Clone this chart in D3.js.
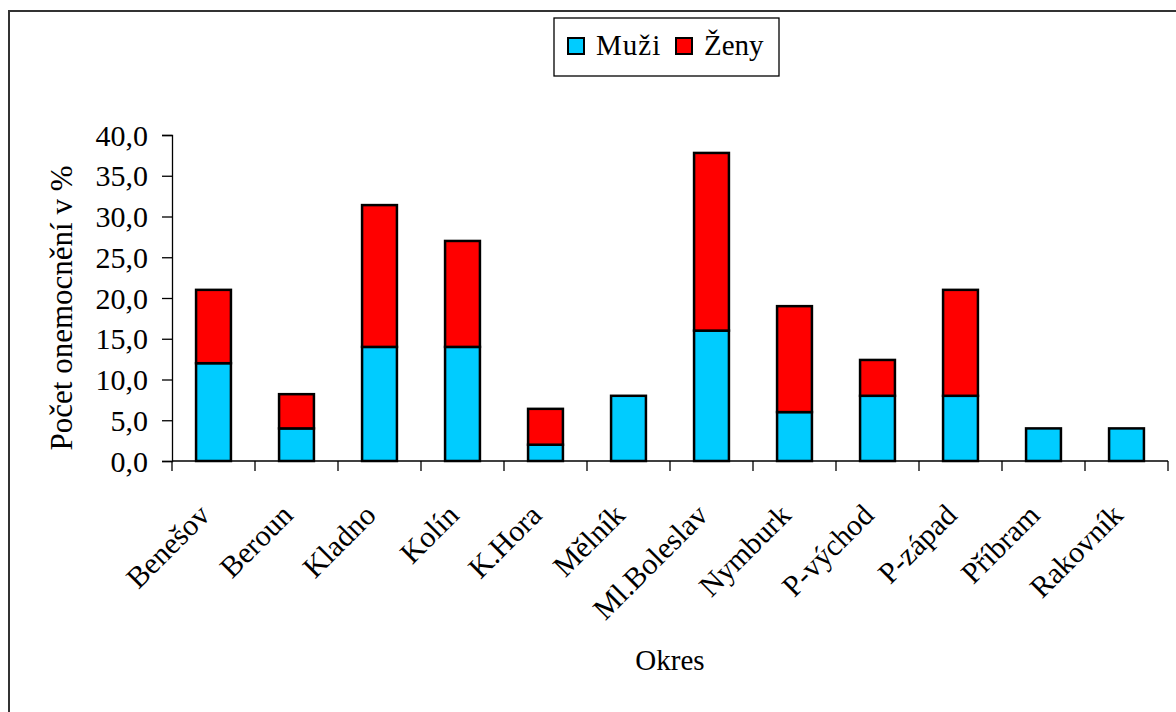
<!DOCTYPE html>
<html>
<head>
<meta charset="utf-8">
<script src="https://cdn.jsdelivr.net/npm/d3@7/dist/d3.min.js"></script>
<style>
  @font-face {
    font-family: "ChartSerif";
    src: local("Liberation Serif"), local("LiberationSerif"), local("LiberationSerif-Regular");
  }
  body { margin: 0; background: #fff; }
  svg text { font-family: "Liberation Serif", "ChartSerif", serif !important; }
</style>
</head>
<body>
<div id="container"></div>
<script>
var okresy = ["Benešov", "Beroun", "Kladno", "Kolín", "K.Hora", "Mělník",
              "Ml.Boleslav", "Nymburk", "P-východ", "P-západ", "Příbram", "Rakovník"];
var muzi = [12.0, 4.0, 14.0, 14.0, 2.0, 8.0, 16.0, 6.0, 8.0, 8.0, 4.0, 4.0];
var zeny = [9.0, 4.2, 17.4, 13.0, 4.4, 0.0, 21.8, 13.0, 4.4, 13.0, 0.0, 0.0];
var yTicks = [0, 5, 10, 15, 20, 25, 30, 35, 40];
var serie = ["Muži", "Ženy"];
var barvy = ["#00CCFF", "#FF0000"];

var FONT = "Liberation Serif";

var width = 1176, height = 712;
var margin = { left: 172, right: 8, top: 135, bottom: 251 };

var svg = d3.select("#container")
  .append("svg")
  .attr("width", width)
  .attr("height", height);

// outer frame (right and bottom edges run off the page)
svg.append("rect")
  .attr("x", 9)
  .attr("y", 11)
  .attr("width", width + 20)
  .attr("height", height + 20)
  .attr("fill", "none")
  .attr("stroke", "#333")
  .attr("stroke-width", 2);

var x = d3.scaleBand()
  .domain(okresy)
  .range([margin.left, width - margin.right])
  .paddingInner(0.58)
  .paddingOuter(0.29);

var y = d3.scaleLinear()
  .domain([0, 40])
  .range([height - margin.bottom, margin.top]);

var rows = okresy.map(function(d, i) {
  return { okres: d, "Muži": muzi[i], "Ženy": zeny[i] };
});
var stacked = d3.stack().keys(serie)(rows);

// y axis: ticks and line from d3, labels drawn separately
var yAxis = svg.append("g")
  .attr("transform", "translate(" + margin.left + ",0)")
  .call(d3.axisLeft(y).tickValues(yTicks).tickSize(10).tickFormat(""));
yAxis.selectAll("line, path").attr("stroke", "#000").attr("stroke-width", 1.3);

svg.selectAll(".ylabel")
  .data(yTicks)
  .enter().append("text")
    .classed("ylabel", true)
    .attr("font-family", FONT)
    .attr("font-size", 30)
    .attr("text-anchor", "end")
    .attr("x", margin.left - 24)
    .attr("y", function(d) { return y(d); })
    .attr("dy", "0.35em")
    .text(function(d) { return d3.format(".1f")(d).replace(".", ","); });

// x axis: ticks at category boundaries
var xBase = y(0);
var bounds = d3.range(okresy.length + 1).map(function(i) {
  return margin.left + i * x.step();
});
svg.append("line")
  .attr("x1", margin.left).attr("x2", width - margin.right)
  .attr("y1", xBase).attr("y2", xBase)
  .attr("stroke", "#000").attr("stroke-width", 1.3);
svg.selectAll(".xtick")
  .data(bounds)
  .enter().append("line")
    .classed("xtick", true)
    .attr("x1", function(d) { return d; })
    .attr("x2", function(d) { return d; })
    .attr("y1", xBase)
    .attr("y2", xBase + 10)
    .attr("stroke", "#000")
    .attr("stroke-width", 1.3);

svg.selectAll(".xlabel")
  .data(okresy)
  .enter().append("text")
    .classed("xlabel", true)
    .attr("font-family", FONT)
    .attr("font-size", 30)
    .attr("text-anchor", "end")
    .attr("transform", function(d) {
      var cx = x(d) + x.bandwidth() / 2 - 2;
      return "translate(" + cx + "," + (xBase + 56) + ") rotate(-45)";
    })
    .text(function(d) { return d; });

// stacked bars
var layers = svg.selectAll(".layer")
  .data(stacked)
  .enter().append("g")
    .classed("layer", true)
    .attr("fill", function(d, i) { return barvy[i]; });

layers.selectAll("rect")
  .data(function(d) { return d.filter(function(p) { return p[1] - p[0] > 0; }); })
  .enter().append("rect")
    .attr("x", function(d) { return x(d.data.okres); })
    .attr("width", x.bandwidth())
    .attr("y", function(d) { return y(d[1]); })
    .attr("height", function(d) { return y(d[0]) - y(d[1]); })
    .attr("stroke", "#000")
    .attr("stroke-width", 2.5);

// axis titles
svg.append("text")
  .attr("font-family", FONT)
  .attr("font-size", 31)
  .attr("text-anchor", "middle")
  .attr("transform", "translate(72,308) rotate(-90)")
  .text("Počet onemocnění v %");

svg.append("text")
  .attr("font-family", FONT)
  .attr("font-size", 29)
  .attr("text-anchor", "middle")
  .attr("x", 670)
  .attr("y", 670)
  .text("Okres");

// legend
var legend = svg.append("g")
  .attr("transform", "translate(554,18)");
legend.append("rect")
  .attr("width", 225)
  .attr("height", 58)
  .attr("fill", "#fff")
  .attr("stroke", "#000")
  .attr("stroke-width", 1.3);

var legendItem = legend.selectAll(".legendItem")
  .data(serie)
  .enter().append("g")
    .classed("legendItem", true)
    .attr("transform", function(d, i) {
      return "translate(" + (14 + i * 108) + ",20)";
    });
legendItem.append("rect")
  .attr("width", 16)
  .attr("height", 16)
  .attr("fill", function(d, i) { return barvy[i]; })
  .attr("stroke", "#000")
  .attr("stroke-width", 2);
legendItem.append("text")
  .attr("font-family", FONT)
  .attr("font-size", 29)
  .attr("x", 28)
  .attr("y", 17)
  .attr("letter-spacing", function(d, i) { return i === 0 ? 1 : 0; })
  .text(function(d) { return d; });
</script>
</body>
</html>
